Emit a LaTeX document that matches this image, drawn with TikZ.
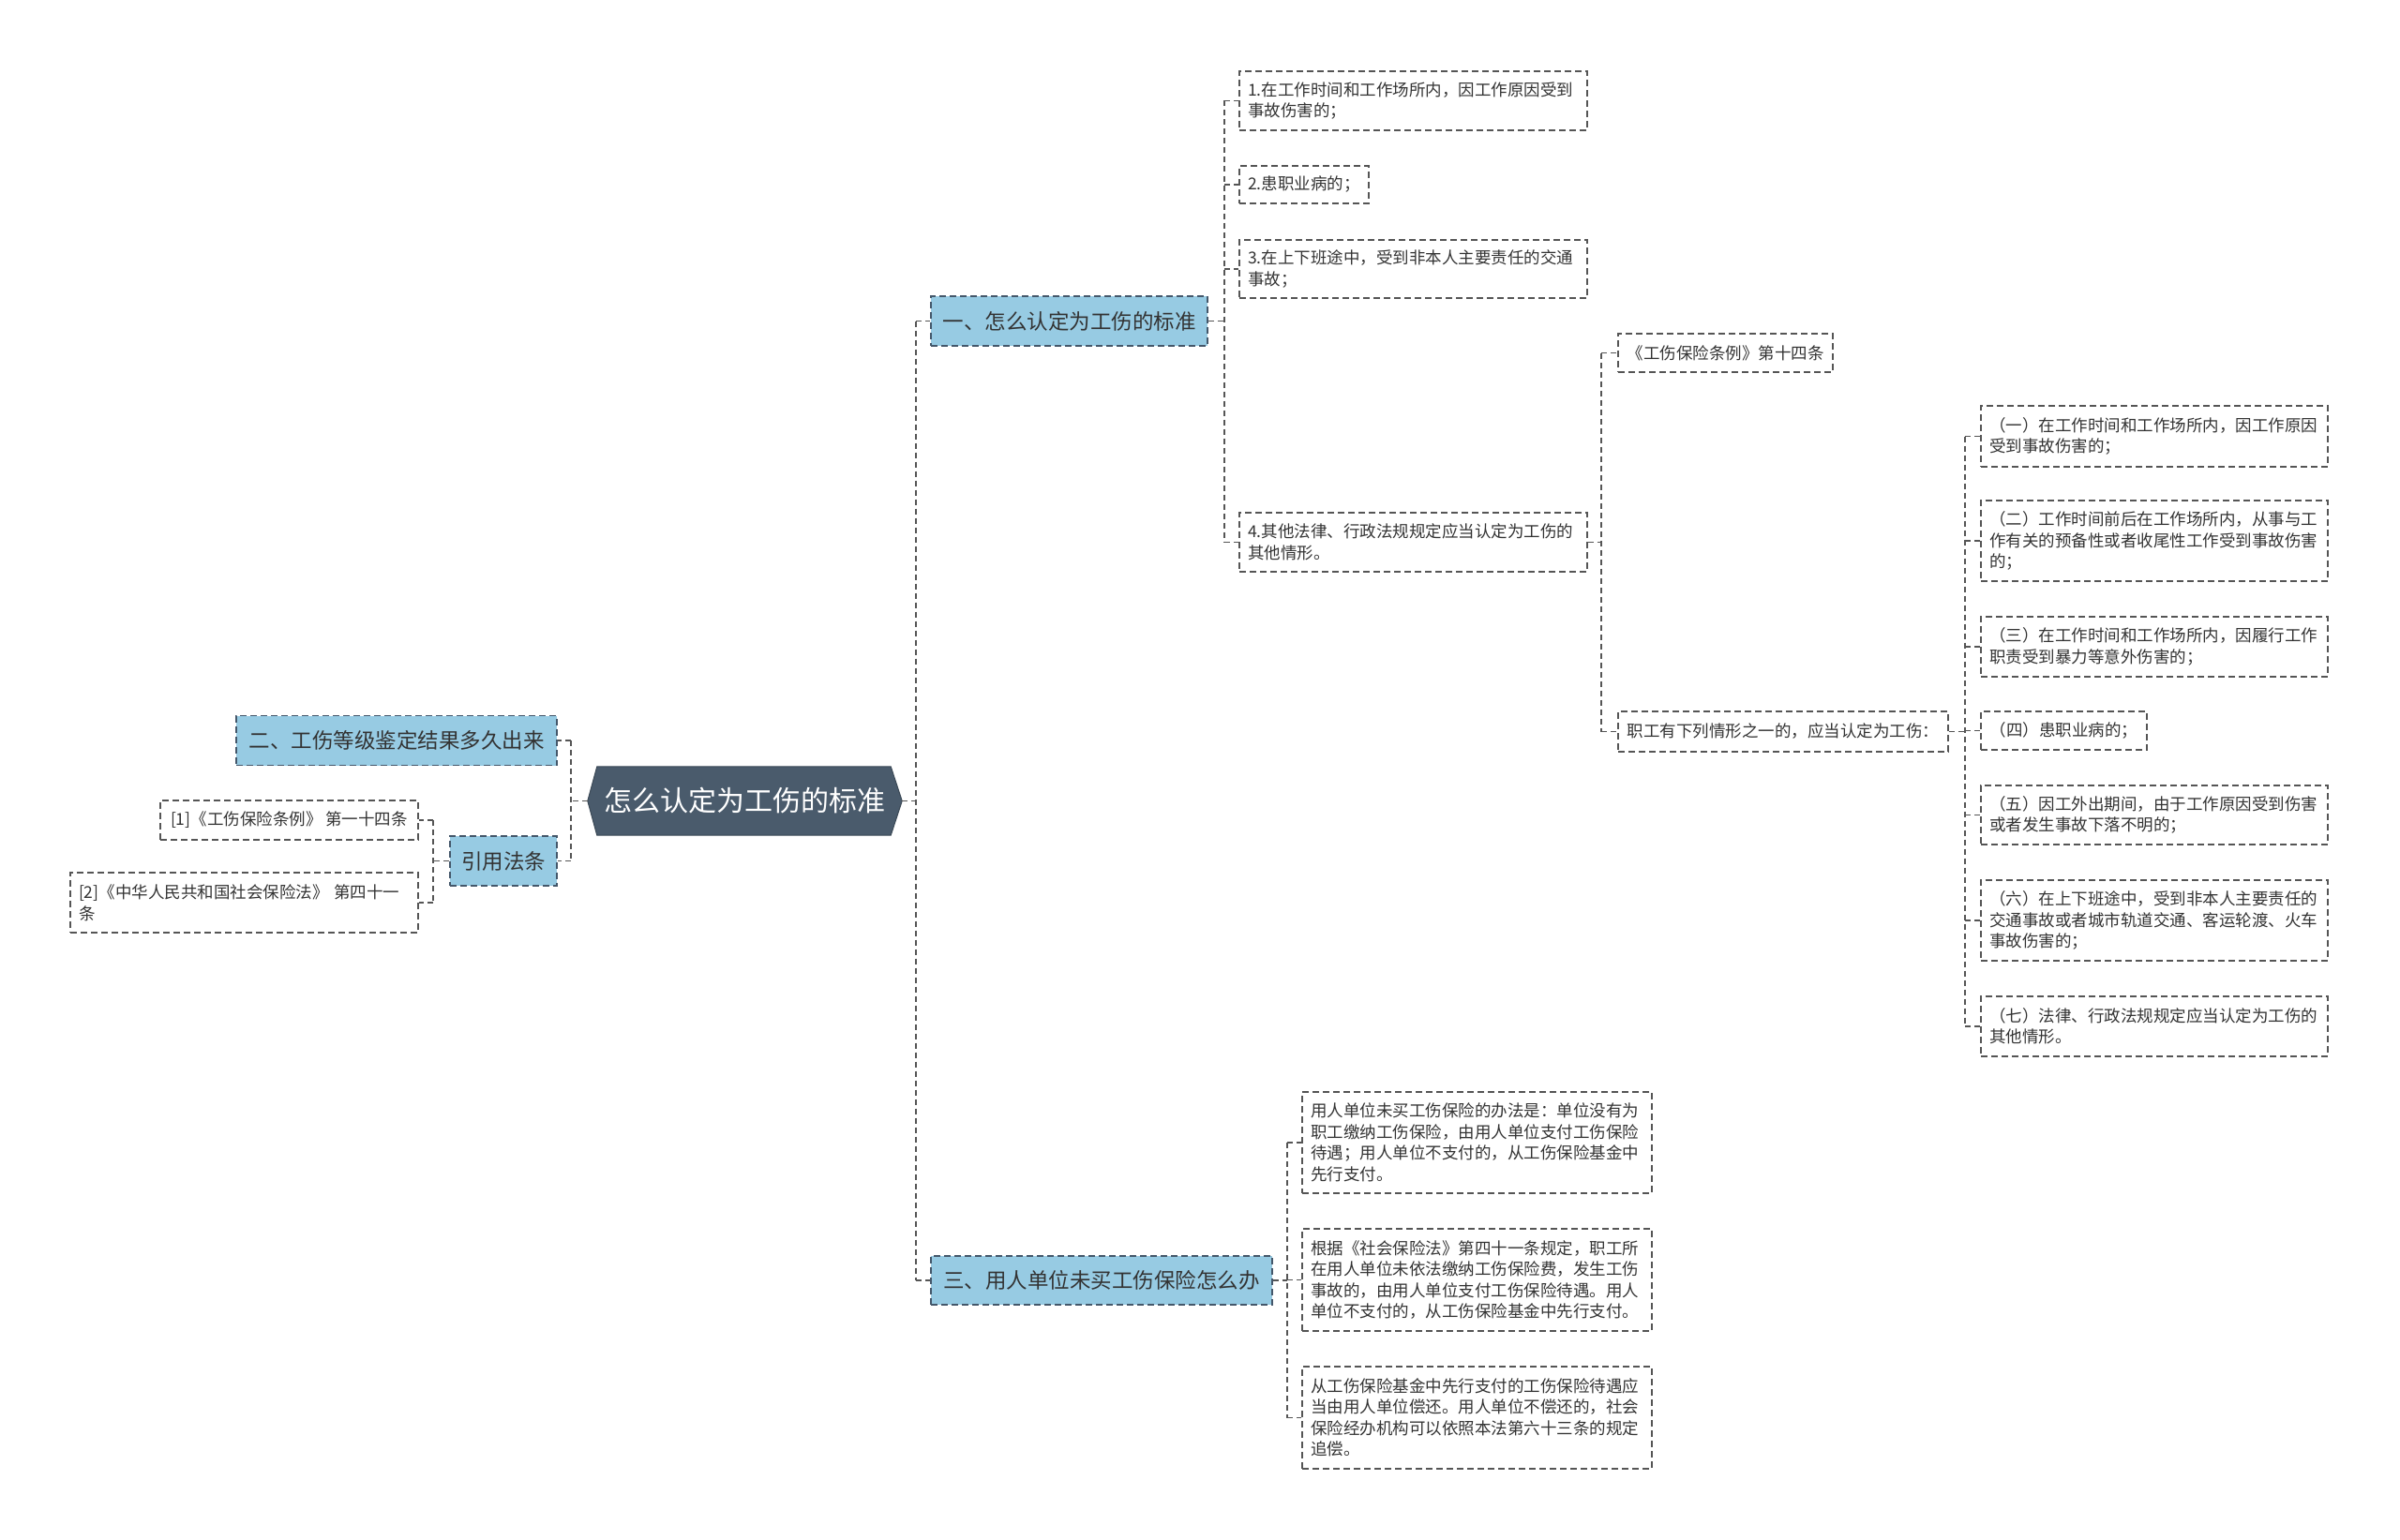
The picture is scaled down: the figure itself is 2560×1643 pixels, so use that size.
\documentclass[tikz,border=0pt]{standalone}
\usepackage{fontspec}
\setmainfont{Noto Sans CJK SC}
\usetikzlibrary{backgrounds}
\definecolor{linec}{HTML}{555555}
\definecolor{boxc}{HTML}{555555}
\definecolor{bluef}{HTML}{97CBE3}
\definecolor{lvlb}{HTML}{44576A}
\definecolor{rootf}{HTML}{4A5B6C}
\definecolor{txtc}{HTML}{333333}
\tikzset{
  conn/.style={draw=linec, line width=1.4pt, dash pattern=on 6pt off 4pt},
  leaf/.style={draw=boxc, line width=1.4pt, dash pattern=on 7pt off 4pt, fill=white, text=txtc,
    font=\fontsize{17.5}{22.5}\selectfont, inner xsep=9pt, inner ysep=2pt, align=left},
  lvl/.style={draw=lvlb, line width=1.4pt, dash pattern=on 7pt off 4pt, fill=bluef, text=txtc,
    font=\fontsize{22.5}{27}\selectfont, inner xsep=11pt, inner ysep=2pt},
  rootn/.style={text=white, font=\fontsize{30}{36}\selectfont, inner sep=0pt,
    minimum width=335pt, minimum height=73pt},
}
\begin{document}
\begin{tikzpicture}[x=1pt,y=-1pt]
\useasboundingbox (0,0) rectangle (2560,1643);

% root
\node[rootn] (root) at (794.5,854.5) {怎么认定为工伤的标准};
\begin{scope}[on background layer]
\fill[white] (0,0) rectangle (2560,1643);
\filldraw[fill=rootf, draw=rootf!80!black, line width=1pt]
  (root.west) -- ([xshift=10pt]root.north west) -- ([xshift=-12pt]root.north east)
  -- (root.east) -- ([xshift=-12pt]root.south east) -- ([xshift=10pt]root.south west) -- cycle;
\end{scope}

% level 1
\node[lvl, minimum width=295pt, minimum height=53pt] (L1a) at (1140.5,342.5) {一、怎么认定为工伤的标准};
\node[lvl, minimum width=364pt, minimum height=52pt] (L1b) at (1175,1366) {三、用人单位未买工伤保险怎么办};
\node[lvl, minimum width=342pt, minimum height=53pt] (L1c) at (423,790) {二、工伤等级鉴定结果多久出来};
\node[lvl, minimum width=114pt, minimum height=53pt] (L1d) at (537,918.5) {引用法条};

% children of L1a
\node[leaf, text width=353pt, minimum height=63pt] (b1) at (1507.5,107.5) {1.在工作时间和工作场所内，因工作原因受到\\事故伤害的；};
\node[leaf, minimum width=138pt, minimum height=40pt] (b2) at (1391,197) {2.患职业病的；};
\node[leaf, text width=353pt, minimum height=62pt] (b3) at (1507.5,287) {3.在上下班途中，受到非本人主要责任的交通\\事故；};
\node[leaf, text width=353pt, minimum height=63pt] (b4) at (1507.5,578.5) {4.其他法律、行政法规规定应当认定为工伤的\\其他情形。};

% children of b4
\node[leaf, minimum width=229pt, minimum height=41pt] (c1) at (1840.5,376.5) {《工伤保险条例》第十四条};
\node[leaf, minimum width=352pt, minimum height=43pt] (c2) at (1902,780.5) {职工有下列情形之一的，应当认定为工伤：};

% children of c2
\node[leaf, text width=352pt, minimum height=65pt] (d1) at (2298,465.5) {（一）在工作时间和工作场所内，因工作原因\\受到事故伤害的；};
\node[leaf, text width=352pt, minimum height=86pt] (d2) at (2298,577) {（二）工作时间前后在工作场所内，从事与工\\作有关的预备性或者收尾性工作受到事故伤害\\的；};
\node[leaf, text width=352pt, minimum height=64pt] (d3) at (2298,690) {（三）在工作时间和工作场所内，因履行工作\\职责受到暴力等意外伤害的；};
\node[leaf, minimum width=177pt, minimum height=41pt] (d4) at (2201.5,779.5) {（四）患职业病的；};
\node[leaf, text width=352pt, minimum height=63pt] (d5) at (2298,869.5) {（五）因工外出期间，由于工作原因受到伤害\\或者发生事故下落不明的；};
\node[leaf, text width=352pt, minimum height=86pt] (d6) at (2298,982) {（六）在上下班途中，受到非本人主要责任的\\交通事故或者城市轨道交通、客运轮渡、火车\\事故伤害的；};
\node[leaf, text width=352pt, minimum height=64pt] (d7) at (2298,1095) {（七）法律、行政法规规定应当认定为工伤的\\其他情形。};

% children of L1b
\node[leaf, text width=355pt, minimum height=108pt] (e1) at (1575.5,1219) {用人单位未买工伤保险的办法是：单位没有为\\职工缴纳工伤保险，由用人单位支付工伤保险\\待遇；用人单位不支付的，从工伤保险基金中\\先行支付。};
\node[leaf, text width=355pt, minimum height=109pt] (e2) at (1575.5,1365.5) {根据《社会保险法》第四十一条规定，职工所\\在用人单位未依法缴纳工伤保险费，发生工伤\\事故的，由用人单位支付工伤保险待遇。用人\\单位不支付的，从工伤保险基金中先行支付。};
\node[leaf, text width=355pt, minimum height=109pt] (e3) at (1575.5,1512.5) {从工伤保险基金中先行支付的工伤保险待遇应\\当由用人单位偿还。用人单位不偿还的，社会\\保险经办机构可以依照本法第六十三条的规定\\追偿。};

% children of L1d
\node[leaf, minimum width=275pt, minimum height=42pt] (f1) at (308.5,875) {[1]《工伤保险条例》 第一十四条};
\node[leaf, text width=353pt, minimum height=64pt] (f2) at (260.5,963) {[2]《中华人民共和国社会保险法》 第四十一\\条};

% bus coordinates
\coordinate (rbR) at (977,0);
\coordinate (rbL) at (609,0);
\coordinate (bA) at (1306,0);
\coordinate (bB) at (1708,0);
\coordinate (bC) at (2096,0);
\coordinate (bD) at (1373,0);
\coordinate (bE) at (462,0);

% root right
\draw[conn] (root.east) -- (root.east -| rbR);
\draw[conn] (rbR |- L1a.west) -- (rbR |- L1b.west);
\foreach \n in {L1a,L1b} \draw[conn] (rbR |- \n.west) -- (\n.west);
% root left
\draw[conn] (root.west) -- (root.west -| rbL);
\draw[conn] (rbL |- L1c.east) -- (rbL |- L1d.east);
\foreach \n in {L1c,L1d} \draw[conn] (rbL |- \n.east) -- (\n.east);
% L1a
\draw[conn] (L1a.east) -- (L1a.east -| bA);
\draw[conn] (bA |- b1.west) -- (bA |- b4.west);
\foreach \n in {b1,b2,b3,b4} \draw[conn] (bA |- \n.west) -- (\n.west);
% b4
\draw[conn] (b4.east) -- (b4.east -| bB);
\draw[conn] (bB |- c1.west) -- (bB |- c2.west);
\foreach \n in {c1,c2} \draw[conn] (bB |- \n.west) -- (\n.west);
% c2
\draw[conn] (c2.east) -- (c2.east -| bC);
\draw[conn] (bC |- d1.west) -- (bC |- d7.west);
\foreach \n in {d1,d2,d3,d4,d5,d6,d7} \draw[conn] (bC |- \n.west) -- (\n.west);
% L1b
\draw[conn] (L1b.east) -- (L1b.east -| bD);
\draw[conn] (bD |- e1.west) -- (bD |- e3.west);
\foreach \n in {e1,e2,e3} \draw[conn] (bD |- \n.west) -- (\n.west);
% L1d
\draw[conn] (L1d.west) -- (L1d.west -| bE);
\draw[conn] (bE |- f1.east) -- (bE |- f2.east);
\foreach \n in {f1,f2} \draw[conn] (bE |- \n.east) -- (\n.east);
\end{tikzpicture}
\end{document}
